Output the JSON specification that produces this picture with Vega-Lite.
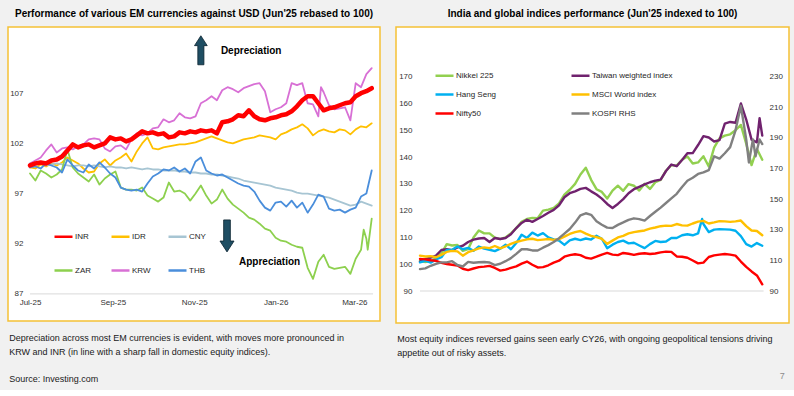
{
"$schema": "https://vega.github.io/schema/vega-lite/v6.json",
"background": "#f1f1f1",
"padding": {"left": 7, "top": 8, "right": 8, "bottom": 6},
"title": {"text": "7", "orient": "bottom", "anchor": "end", "offset": -12, "dx": -5, "fontSize": 9, "fontWeight": "normal", "color": "#8c8c8c"},
"spacing": 14,
"resolve": {"scale": {"color": "independent", "x": "independent", "y": "independent"}, "legend": {"color": "independent"}},
"datasets": {
"fx": [
{"d":"2025-07-01","s":"INR","v":99.8},{"d":"2025-07-05","s":"INR","v":100.0},{"d":"2025-07-09","s":"INR","v":100.1},{"d":"2025-07-13","s":"INR","v":100.0},{"d":"2025-07-17","s":"INR","v":100.3},{"d":"2025-07-21","s":"INR","v":100.4},{"d":"2025-07-25","s":"INR","v":100.7},{"d":"2025-07-29","s":"INR","v":101.3},{"d":"2025-08-02","s":"INR","v":101.9},{"d":"2025-08-06","s":"INR","v":101.6},{"d":"2025-08-10","s":"INR","v":101.8},{"d":"2025-08-14","s":"INR","v":101.9},{"d":"2025-08-18","s":"INR","v":101.6},{"d":"2025-08-22","s":"INR","v":101.8},{"d":"2025-08-26","s":"INR","v":102.0},{"d":"2025-08-30","s":"INR","v":102.6},{"d":"2025-09-03","s":"INR","v":102.4},{"d":"2025-09-07","s":"INR","v":102.5},{"d":"2025-09-11","s":"INR","v":102.2},{"d":"2025-09-15","s":"INR","v":102.4},{"d":"2025-09-19","s":"INR","v":102.8},{"d":"2025-09-23","s":"INR","v":103.2},{"d":"2025-09-27","s":"INR","v":103.0},{"d":"2025-10-01","s":"INR","v":103.1},{"d":"2025-10-05","s":"INR","v":102.9},{"d":"2025-10-09","s":"INR","v":103.0},{"d":"2025-10-13","s":"INR","v":102.6},{"d":"2025-10-17","s":"INR","v":102.7},{"d":"2025-10-21","s":"INR","v":103.1},{"d":"2025-10-25","s":"INR","v":103.0},{"d":"2025-10-29","s":"INR","v":103.2},{"d":"2025-11-02","s":"INR","v":103.1},{"d":"2025-11-06","s":"INR","v":103.3},{"d":"2025-11-10","s":"INR","v":103.2},{"d":"2025-11-14","s":"INR","v":103.3},{"d":"2025-11-18","s":"INR","v":103.0},{"d":"2025-11-22","s":"INR","v":104.1},{"d":"2025-11-26","s":"INR","v":104.2},{"d":"2025-11-30","s":"INR","v":104.4},{"d":"2025-12-04","s":"INR","v":104.8},{"d":"2025-12-08","s":"INR","v":104.7},{"d":"2025-12-12","s":"INR","v":105.3},{"d":"2025-12-16","s":"INR","v":104.7},{"d":"2025-12-20","s":"INR","v":104.4},{"d":"2025-12-24","s":"INR","v":104.3},{"d":"2025-12-28","s":"INR","v":104.5},{"d":"2026-01-01","s":"INR","v":104.6},{"d":"2026-01-05","s":"INR","v":104.8},{"d":"2026-01-09","s":"INR","v":104.9},{"d":"2026-01-13","s":"INR","v":105.2},{"d":"2026-01-17","s":"INR","v":105.7},{"d":"2026-01-21","s":"INR","v":106.3},{"d":"2026-01-25","s":"INR","v":106.7},{"d":"2026-01-29","s":"INR","v":106.7},{"d":"2026-02-02","s":"INR","v":106.0},{"d":"2026-02-06","s":"INR","v":105.3},{"d":"2026-02-10","s":"INR","v":105.5},{"d":"2026-02-14","s":"INR","v":105.6},{"d":"2026-02-18","s":"INR","v":105.8},{"d":"2026-02-22","s":"INR","v":106.0},{"d":"2026-02-26","s":"INR","v":106.1},{"d":"2026-03-02","s":"INR","v":106.7},{"d":"2026-03-06","s":"INR","v":107.0},{"d":"2026-03-10","s":"INR","v":107.2},{"d":"2026-03-14","s":"INR","v":107.5},
{"d":"2025-07-01","s":"IDR","v":99.6},{"d":"2025-07-05","s":"IDR","v":99.5},{"d":"2025-07-09","s":"IDR","v":99.9},{"d":"2025-07-13","s":"IDR","v":99.7},{"d":"2025-07-17","s":"IDR","v":100.0},{"d":"2025-07-21","s":"IDR","v":99.8},{"d":"2025-07-25","s":"IDR","v":100.1},{"d":"2025-07-29","s":"IDR","v":100.6},{"d":"2025-08-02","s":"IDR","v":100.3},{"d":"2025-08-06","s":"IDR","v":100.0},{"d":"2025-08-10","s":"IDR","v":99.5},{"d":"2025-08-14","s":"IDR","v":99.1},{"d":"2025-08-18","s":"IDR","v":99.2},{"d":"2025-08-22","s":"IDR","v":100.0},{"d":"2025-08-26","s":"IDR","v":100.4},{"d":"2025-08-30","s":"IDR","v":99.8},{"d":"2025-09-03","s":"IDR","v":100.3},{"d":"2025-09-07","s":"IDR","v":100.6},{"d":"2025-09-11","s":"IDR","v":101.0},{"d":"2025-09-15","s":"IDR","v":100.2},{"d":"2025-09-19","s":"IDR","v":101.2},{"d":"2025-09-23","s":"IDR","v":102.0},{"d":"2025-09-27","s":"IDR","v":102.6},{"d":"2025-10-01","s":"IDR","v":101.5},{"d":"2025-10-05","s":"IDR","v":101.4},{"d":"2025-10-09","s":"IDR","v":101.6},{"d":"2025-10-13","s":"IDR","v":101.7},{"d":"2025-10-17","s":"IDR","v":101.8},{"d":"2025-10-21","s":"IDR","v":101.9},{"d":"2025-10-25","s":"IDR","v":101.9},{"d":"2025-10-29","s":"IDR","v":102.0},{"d":"2025-11-02","s":"IDR","v":102.1},{"d":"2025-11-06","s":"IDR","v":102.3},{"d":"2025-11-10","s":"IDR","v":102.5},{"d":"2025-11-14","s":"IDR","v":102.7},{"d":"2025-11-18","s":"IDR","v":102.5},{"d":"2025-11-22","s":"IDR","v":102.3},{"d":"2025-11-26","s":"IDR","v":102.1},{"d":"2025-11-30","s":"IDR","v":102.0},{"d":"2025-12-04","s":"IDR","v":102.2},{"d":"2025-12-08","s":"IDR","v":102.4},{"d":"2025-12-12","s":"IDR","v":102.5},{"d":"2025-12-16","s":"IDR","v":102.6},{"d":"2025-12-20","s":"IDR","v":102.8},{"d":"2025-12-24","s":"IDR","v":102.7},{"d":"2025-12-28","s":"IDR","v":102.6},{"d":"2026-01-01","s":"IDR","v":102.4},{"d":"2026-01-05","s":"IDR","v":102.9},{"d":"2026-01-09","s":"IDR","v":103.1},{"d":"2026-01-13","s":"IDR","v":103.4},{"d":"2026-01-17","s":"IDR","v":103.6},{"d":"2026-01-21","s":"IDR","v":103.9},{"d":"2026-01-25","s":"IDR","v":103.5},{"d":"2026-01-29","s":"IDR","v":102.8},{"d":"2026-02-02","s":"IDR","v":103.2},{"d":"2026-02-06","s":"IDR","v":103.4},{"d":"2026-02-10","s":"IDR","v":103.2},{"d":"2026-02-14","s":"IDR","v":103.1},{"d":"2026-02-18","s":"IDR","v":103.4},{"d":"2026-02-22","s":"IDR","v":103.3},{"d":"2026-02-26","s":"IDR","v":102.9},{"d":"2026-03-02","s":"IDR","v":103.4},{"d":"2026-03-06","s":"IDR","v":103.7},{"d":"2026-03-10","s":"IDR","v":103.6},{"d":"2026-03-14","s":"IDR","v":104.0},
{"d":"2025-07-01","s":"CNY","v":100.0},{"d":"2025-07-05","s":"CNY","v":99.9},{"d":"2025-07-09","s":"CNY","v":100.0},{"d":"2025-07-13","s":"CNY","v":99.8},{"d":"2025-07-17","s":"CNY","v":99.9},{"d":"2025-07-21","s":"CNY","v":100.0},{"d":"2025-07-25","s":"CNY","v":99.9},{"d":"2025-07-29","s":"CNY","v":99.8},{"d":"2025-08-02","s":"CNY","v":99.7},{"d":"2025-08-06","s":"CNY","v":99.8},{"d":"2025-08-10","s":"CNY","v":99.8},{"d":"2025-08-14","s":"CNY","v":99.7},{"d":"2025-08-18","s":"CNY","v":99.8},{"d":"2025-08-22","s":"CNY","v":99.7},{"d":"2025-08-26","s":"CNY","v":99.6},{"d":"2025-08-30","s":"CNY","v":99.7},{"d":"2025-09-03","s":"CNY","v":99.6},{"d":"2025-09-07","s":"CNY","v":99.6},{"d":"2025-09-11","s":"CNY","v":99.5},{"d":"2025-09-15","s":"CNY","v":99.6},{"d":"2025-09-19","s":"CNY","v":99.5},{"d":"2025-09-23","s":"CNY","v":99.4},{"d":"2025-09-27","s":"CNY","v":99.5},{"d":"2025-10-01","s":"CNY","v":99.4},{"d":"2025-10-05","s":"CNY","v":99.4},{"d":"2025-10-09","s":"CNY","v":99.3},{"d":"2025-10-13","s":"CNY","v":99.3},{"d":"2025-10-17","s":"CNY","v":99.3},{"d":"2025-10-21","s":"CNY","v":99.2},{"d":"2025-10-25","s":"CNY","v":99.2},{"d":"2025-10-29","s":"CNY","v":99.1},{"d":"2025-11-02","s":"CNY","v":99.1},{"d":"2025-11-06","s":"CNY","v":99.0},{"d":"2025-11-10","s":"CNY","v":99.0},{"d":"2025-11-14","s":"CNY","v":98.9},{"d":"2025-11-18","s":"CNY","v":98.9},{"d":"2025-11-22","s":"CNY","v":98.8},{"d":"2025-11-26","s":"CNY","v":98.7},{"d":"2025-11-30","s":"CNY","v":98.6},{"d":"2025-12-04","s":"CNY","v":98.5},{"d":"2025-12-08","s":"CNY","v":98.3},{"d":"2025-12-12","s":"CNY","v":98.2},{"d":"2025-12-16","s":"CNY","v":98.1},{"d":"2025-12-20","s":"CNY","v":98.0},{"d":"2025-12-24","s":"CNY","v":97.9},{"d":"2025-12-28","s":"CNY","v":97.8},{"d":"2026-01-01","s":"CNY","v":97.6},{"d":"2026-01-05","s":"CNY","v":97.5},{"d":"2026-01-09","s":"CNY","v":97.4},{"d":"2026-01-13","s":"CNY","v":97.3},{"d":"2026-01-17","s":"CNY","v":97.1},{"d":"2026-01-21","s":"CNY","v":97.0},{"d":"2026-01-25","s":"CNY","v":97.0},{"d":"2026-01-29","s":"CNY","v":96.9},{"d":"2026-02-02","s":"CNY","v":96.8},{"d":"2026-02-06","s":"CNY","v":96.7},{"d":"2026-02-10","s":"CNY","v":96.6},{"d":"2026-02-14","s":"CNY","v":96.4},{"d":"2026-02-18","s":"CNY","v":96.2},{"d":"2026-02-22","s":"CNY","v":96.0},{"d":"2026-02-26","s":"CNY","v":95.8},{"d":"2026-03-02","s":"CNY","v":95.9},{"d":"2026-03-06","s":"CNY","v":96.2},{"d":"2026-03-10","s":"CNY","v":96.0},{"d":"2026-03-14","s":"CNY","v":95.8},
{"d":"2025-07-01","s":"ZAR","v":99.0},{"d":"2025-07-05","s":"ZAR","v":98.3},{"d":"2025-07-09","s":"ZAR","v":99.3},{"d":"2025-07-13","s":"ZAR","v":99.0},{"d":"2025-07-17","s":"ZAR","v":98.6},{"d":"2025-07-21","s":"ZAR","v":98.9},{"d":"2025-07-25","s":"ZAR","v":99.4},{"d":"2025-07-29","s":"ZAR","v":101.4},{"d":"2025-08-02","s":"ZAR","v":99.6},{"d":"2025-08-06","s":"ZAR","v":99.0},{"d":"2025-08-10","s":"ZAR","v":98.6},{"d":"2025-08-14","s":"ZAR","v":98.2},{"d":"2025-08-18","s":"ZAR","v":98.9},{"d":"2025-08-22","s":"ZAR","v":97.9},{"d":"2025-08-26","s":"ZAR","v":98.5},{"d":"2025-08-30","s":"ZAR","v":98.9},{"d":"2025-09-03","s":"ZAR","v":99.2},{"d":"2025-09-07","s":"ZAR","v":97.6},{"d":"2025-09-11","s":"ZAR","v":97.4},{"d":"2025-09-15","s":"ZAR","v":97.4},{"d":"2025-09-19","s":"ZAR","v":97.3},{"d":"2025-09-23","s":"ZAR","v":97.6},{"d":"2025-09-27","s":"ZAR","v":96.8},{"d":"2025-10-01","s":"ZAR","v":96.5},{"d":"2025-10-05","s":"ZAR","v":96.2},{"d":"2025-10-09","s":"ZAR","v":96.6},{"d":"2025-10-13","s":"ZAR","v":98.1},{"d":"2025-10-17","s":"ZAR","v":97.2},{"d":"2025-10-21","s":"ZAR","v":97.3},{"d":"2025-10-25","s":"ZAR","v":97.0},{"d":"2025-10-29","s":"ZAR","v":96.3},{"d":"2025-11-02","s":"ZAR","v":97.0},{"d":"2025-11-06","s":"ZAR","v":97.8},{"d":"2025-11-10","s":"ZAR","v":96.8},{"d":"2025-11-14","s":"ZAR","v":96.0},{"d":"2025-11-18","s":"ZAR","v":96.4},{"d":"2025-11-22","s":"ZAR","v":97.4},{"d":"2025-11-26","s":"ZAR","v":96.5},{"d":"2025-11-30","s":"ZAR","v":95.9},{"d":"2025-12-04","s":"ZAR","v":95.5},{"d":"2025-12-08","s":"ZAR","v":95.1},{"d":"2025-12-12","s":"ZAR","v":94.6},{"d":"2025-12-16","s":"ZAR","v":94.4},{"d":"2025-12-20","s":"ZAR","v":94.0},{"d":"2025-12-24","s":"ZAR","v":93.5},{"d":"2025-12-28","s":"ZAR","v":93.3},{"d":"2026-01-01","s":"ZAR","v":92.6},{"d":"2026-01-05","s":"ZAR","v":92.3},{"d":"2026-01-09","s":"ZAR","v":92.2},{"d":"2026-01-13","s":"ZAR","v":91.9},{"d":"2026-01-17","s":"ZAR","v":91.7},{"d":"2026-01-21","s":"ZAR","v":91.6},{"d":"2026-01-25","s":"ZAR","v":89.6},{"d":"2026-01-29","s":"ZAR","v":88.5},{"d":"2026-02-02","s":"ZAR","v":90.2},{"d":"2026-02-06","s":"ZAR","v":90.9},{"d":"2026-02-10","s":"ZAR","v":89.7},{"d":"2026-02-14","s":"ZAR","v":89.5},{"d":"2026-02-18","s":"ZAR","v":89.6},{"d":"2026-02-22","s":"ZAR","v":89.7},{"d":"2026-02-26","s":"ZAR","v":89.0},{"d":"2026-03-02","s":"ZAR","v":90.5},{"d":"2026-03-06","s":"ZAR","v":91.4},{"d":"2026-03-08","s":"ZAR","v":93.4},{"d":"2026-03-10","s":"ZAR","v":92.5},{"d":"2026-03-11","s":"ZAR","v":91.4},{"d":"2026-03-14","s":"ZAR","v":94.5},
{"d":"2025-07-01","s":"KRW","v":100.0},{"d":"2025-07-05","s":"KRW","v":100.3},{"d":"2025-07-09","s":"KRW","v":100.6},{"d":"2025-07-13","s":"KRW","v":101.3},{"d":"2025-07-17","s":"KRW","v":101.9},{"d":"2025-07-21","s":"KRW","v":101.1},{"d":"2025-07-25","s":"KRW","v":101.5},{"d":"2025-07-29","s":"KRW","v":101.6},{"d":"2025-08-02","s":"KRW","v":101.4},{"d":"2025-08-06","s":"KRW","v":101.7},{"d":"2025-08-10","s":"KRW","v":101.9},{"d":"2025-08-14","s":"KRW","v":102.4},{"d":"2025-08-18","s":"KRW","v":102.5},{"d":"2025-08-22","s":"KRW","v":102.4},{"d":"2025-08-26","s":"KRW","v":101.5},{"d":"2025-08-30","s":"KRW","v":101.2},{"d":"2025-09-03","s":"KRW","v":101.7},{"d":"2025-09-07","s":"KRW","v":101.8},{"d":"2025-09-11","s":"KRW","v":101.4},{"d":"2025-09-15","s":"KRW","v":102.4},{"d":"2025-09-19","s":"KRW","v":103.0},{"d":"2025-09-23","s":"KRW","v":102.8},{"d":"2025-09-27","s":"KRW","v":103.0},{"d":"2025-10-01","s":"KRW","v":103.5},{"d":"2025-10-05","s":"KRW","v":103.6},{"d":"2025-10-09","s":"KRW","v":104.4},{"d":"2025-10-13","s":"KRW","v":104.1},{"d":"2025-10-17","s":"KRW","v":104.3},{"d":"2025-10-21","s":"KRW","v":105.0},{"d":"2025-10-25","s":"KRW","v":104.6},{"d":"2025-10-29","s":"KRW","v":104.5},{"d":"2025-11-02","s":"KRW","v":104.7},{"d":"2025-11-06","s":"KRW","v":106.0},{"d":"2025-11-10","s":"KRW","v":106.3},{"d":"2025-11-14","s":"KRW","v":106.7},{"d":"2025-11-18","s":"KRW","v":106.3},{"d":"2025-11-22","s":"KRW","v":107.3},{"d":"2025-11-26","s":"KRW","v":107.6},{"d":"2025-11-30","s":"KRW","v":107.4},{"d":"2025-12-04","s":"KRW","v":107.1},{"d":"2025-12-08","s":"KRW","v":107.5},{"d":"2025-12-12","s":"KRW","v":107.7},{"d":"2025-12-16","s":"KRW","v":107.9},{"d":"2025-12-20","s":"KRW","v":108.0},{"d":"2025-12-24","s":"KRW","v":107.2},{"d":"2025-12-28","s":"KRW","v":105.1},{"d":"2026-01-01","s":"KRW","v":105.4},{"d":"2026-01-05","s":"KRW","v":105.6},{"d":"2026-01-09","s":"KRW","v":106.0},{"d":"2026-01-13","s":"KRW","v":108.0},{"d":"2026-01-17","s":"KRW","v":107.8},{"d":"2026-01-21","s":"KRW","v":108.0},{"d":"2026-01-25","s":"KRW","v":106.0},{"d":"2026-01-29","s":"KRW","v":105.9},{"d":"2026-02-02","s":"KRW","v":104.7},{"d":"2026-02-04","s":"KRW","v":107.6},{"d":"2026-02-06","s":"KRW","v":107.1},{"d":"2026-02-10","s":"KRW","v":105.8},{"d":"2026-02-14","s":"KRW","v":105.4},{"d":"2026-02-18","s":"KRW","v":105.5},{"d":"2026-02-22","s":"KRW","v":105.6},{"d":"2026-02-26","s":"KRW","v":104.3},{"d":"2026-03-02","s":"KRW","v":108.0},{"d":"2026-03-06","s":"KRW","v":107.6},{"d":"2026-03-10","s":"KRW","v":108.9},{"d":"2026-03-14","s":"KRW","v":109.5},
{"d":"2025-07-01","s":"THB","v":99.6},{"d":"2025-07-05","s":"THB","v":99.7},{"d":"2025-07-09","s":"THB","v":99.5},{"d":"2025-07-13","s":"THB","v":100.0},{"d":"2025-07-17","s":"THB","v":99.8},{"d":"2025-07-21","s":"THB","v":99.6},{"d":"2025-07-25","s":"THB","v":99.1},{"d":"2025-07-29","s":"THB","v":100.4},{"d":"2025-08-02","s":"THB","v":99.8},{"d":"2025-08-06","s":"THB","v":99.3},{"d":"2025-08-10","s":"THB","v":99.1},{"d":"2025-08-14","s":"THB","v":99.9},{"d":"2025-08-18","s":"THB","v":99.5},{"d":"2025-08-22","s":"THB","v":100.1},{"d":"2025-08-26","s":"THB","v":99.6},{"d":"2025-08-30","s":"THB","v":99.0},{"d":"2025-09-03","s":"THB","v":98.6},{"d":"2025-09-07","s":"THB","v":97.6},{"d":"2025-09-11","s":"THB","v":97.4},{"d":"2025-09-15","s":"THB","v":97.3},{"d":"2025-09-19","s":"THB","v":97.4},{"d":"2025-09-23","s":"THB","v":97.2},{"d":"2025-09-27","s":"THB","v":98.0},{"d":"2025-10-01","s":"THB","v":98.7},{"d":"2025-10-05","s":"THB","v":99.0},{"d":"2025-10-09","s":"THB","v":99.4},{"d":"2025-10-13","s":"THB","v":99.3},{"d":"2025-10-17","s":"THB","v":99.6},{"d":"2025-10-21","s":"THB","v":99.2},{"d":"2025-10-25","s":"THB","v":99.5},{"d":"2025-10-29","s":"THB","v":99.0},{"d":"2025-11-02","s":"THB","v":100.2},{"d":"2025-11-06","s":"THB","v":100.6},{"d":"2025-11-10","s":"THB","v":99.3},{"d":"2025-11-14","s":"THB","v":99.0},{"d":"2025-11-18","s":"THB","v":98.8},{"d":"2025-11-22","s":"THB","v":98.9},{"d":"2025-11-26","s":"THB","v":98.6},{"d":"2025-11-30","s":"THB","v":98.3},{"d":"2025-12-04","s":"THB","v":98.0},{"d":"2025-12-08","s":"THB","v":97.8},{"d":"2025-12-12","s":"THB","v":97.7},{"d":"2025-12-16","s":"THB","v":97.2},{"d":"2025-12-20","s":"THB","v":96.3},{"d":"2025-12-24","s":"THB","v":95.6},{"d":"2025-12-28","s":"THB","v":95.3},{"d":"2026-01-01","s":"THB","v":96.1},{"d":"2026-01-05","s":"THB","v":96.2},{"d":"2026-01-09","s":"THB","v":95.7},{"d":"2026-01-13","s":"THB","v":96.3},{"d":"2026-01-17","s":"THB","v":95.6},{"d":"2026-01-21","s":"THB","v":96.1},{"d":"2026-01-25","s":"THB","v":95.1},{"d":"2026-01-29","s":"THB","v":95.9},{"d":"2026-02-02","s":"THB","v":96.9},{"d":"2026-02-06","s":"THB","v":96.7},{"d":"2026-02-10","s":"THB","v":95.5},{"d":"2026-02-14","s":"THB","v":95.3},{"d":"2026-02-18","s":"THB","v":95.4},{"d":"2026-02-22","s":"THB","v":95.1},{"d":"2026-02-26","s":"THB","v":95.4},{"d":"2026-03-02","s":"THB","v":95.6},{"d":"2026-03-06","s":"THB","v":96.7},{"d":"2026-03-10","s":"THB","v":97.0},{"d":"2026-03-14","s":"THB","v":99.3}
],
"eq": [
{"d":"2025-07-01","s":"Nikkei 225","v":101.3},{"d":"2025-07-05","s":"Nikkei 225","v":100.8},{"d":"2025-07-09","s":"Nikkei 225","v":101.2},{"d":"2025-07-13","s":"Nikkei 225","v":102.3},{"d":"2025-07-17","s":"Nikkei 225","v":104.0},{"d":"2025-07-21","s":"Nikkei 225","v":107.5},{"d":"2025-07-25","s":"Nikkei 225","v":107.0},{"d":"2025-07-29","s":"Nikkei 225","v":107.2},{"d":"2025-08-02","s":"Nikkei 225","v":105.0},{"d":"2025-08-06","s":"Nikkei 225","v":105.6},{"d":"2025-08-10","s":"Nikkei 225","v":110.0},{"d":"2025-08-14","s":"Nikkei 225","v":112.6},{"d":"2025-08-18","s":"Nikkei 225","v":111.5},{"d":"2025-08-22","s":"Nikkei 225","v":111.5},{"d":"2025-08-26","s":"Nikkei 225","v":109.9},{"d":"2025-08-30","s":"Nikkei 225","v":109.4},{"d":"2025-09-03","s":"Nikkei 225","v":110.0},{"d":"2025-09-07","s":"Nikkei 225","v":111.5},{"d":"2025-09-11","s":"Nikkei 225","v":113.5},{"d":"2025-09-15","s":"Nikkei 225","v":115.8},{"d":"2025-09-19","s":"Nikkei 225","v":116.9},{"d":"2025-09-23","s":"Nikkei 225","v":117.3},{"d":"2025-09-27","s":"Nikkei 225","v":117.2},{"d":"2025-10-01","s":"Nikkei 225","v":120.0},{"d":"2025-10-05","s":"Nikkei 225","v":120.4},{"d":"2025-10-09","s":"Nikkei 225","v":121.0},{"d":"2025-10-13","s":"Nikkei 225","v":122.7},{"d":"2025-10-17","s":"Nikkei 225","v":126.0},{"d":"2025-10-21","s":"Nikkei 225","v":127.8},{"d":"2025-10-25","s":"Nikkei 225","v":130.0},{"d":"2025-10-29","s":"Nikkei 225","v":133.5},{"d":"2025-11-02","s":"Nikkei 225","v":136.0},{"d":"2025-11-06","s":"Nikkei 225","v":131.5},{"d":"2025-11-10","s":"Nikkei 225","v":128.0},{"d":"2025-11-14","s":"Nikkei 225","v":127.0},{"d":"2025-11-18","s":"Nikkei 225","v":124.5},{"d":"2025-11-22","s":"Nikkei 225","v":127.5},{"d":"2025-11-26","s":"Nikkei 225","v":129.3},{"d":"2025-11-30","s":"Nikkei 225","v":127.4},{"d":"2025-12-04","s":"Nikkei 225","v":129.9},{"d":"2025-12-08","s":"Nikkei 225","v":129.3},{"d":"2025-12-12","s":"Nikkei 225","v":127.5},{"d":"2025-12-16","s":"Nikkei 225","v":130.0},{"d":"2025-12-20","s":"Nikkei 225","v":128.1},{"d":"2025-12-24","s":"Nikkei 225","v":130.6},{"d":"2025-12-28","s":"Nikkei 225","v":131.5},{"d":"2026-01-01","s":"Nikkei 225","v":134.9},{"d":"2026-01-05","s":"Nikkei 225","v":137.0},{"d":"2026-01-09","s":"Nikkei 225","v":136.8},{"d":"2026-01-13","s":"Nikkei 225","v":139.0},{"d":"2026-01-17","s":"Nikkei 225","v":140.2},{"d":"2026-01-21","s":"Nikkei 225","v":137.6},{"d":"2026-01-25","s":"Nikkei 225","v":138.0},{"d":"2026-01-29","s":"Nikkei 225","v":140.3},{"d":"2026-02-02","s":"Nikkei 225","v":136.5},{"d":"2026-02-06","s":"Nikkei 225","v":143.5},{"d":"2026-02-10","s":"Nikkei 225","v":147.0},{"d":"2026-02-14","s":"Nikkei 225","v":148.0},{"d":"2026-02-18","s":"Nikkei 225","v":148.5},{"d":"2026-02-22","s":"Nikkei 225","v":150.0},{"d":"2026-02-26","s":"Nikkei 225","v":152.0},{"d":"2026-03-02","s":"Nikkei 225","v":145.0},{"d":"2026-03-06","s":"Nikkei 225","v":137.0},{"d":"2026-03-10","s":"Nikkei 225","v":143.0},{"d":"2026-03-14","s":"Nikkei 225","v":139.0},
{"d":"2025-07-01","s":"Taiwan weighted index","v":101.0},{"d":"2025-07-05","s":"Taiwan weighted index","v":101.9},{"d":"2025-07-09","s":"Taiwan weighted index","v":102.5},{"d":"2025-07-13","s":"Taiwan weighted index","v":103.2},{"d":"2025-07-17","s":"Taiwan weighted index","v":105.3},{"d":"2025-07-21","s":"Taiwan weighted index","v":105.6},{"d":"2025-07-25","s":"Taiwan weighted index","v":105.2},{"d":"2025-07-29","s":"Taiwan weighted index","v":106.3},{"d":"2025-08-02","s":"Taiwan weighted index","v":106.9},{"d":"2025-08-06","s":"Taiwan weighted index","v":108.3},{"d":"2025-08-10","s":"Taiwan weighted index","v":109.2},{"d":"2025-08-14","s":"Taiwan weighted index","v":109.6},{"d":"2025-08-18","s":"Taiwan weighted index","v":109.8},{"d":"2025-08-22","s":"Taiwan weighted index","v":108.3},{"d":"2025-08-26","s":"Taiwan weighted index","v":109.8},{"d":"2025-08-30","s":"Taiwan weighted index","v":109.4},{"d":"2025-09-03","s":"Taiwan weighted index","v":109.8},{"d":"2025-09-07","s":"Taiwan weighted index","v":111.2},{"d":"2025-09-11","s":"Taiwan weighted index","v":113.5},{"d":"2025-09-15","s":"Taiwan weighted index","v":115.4},{"d":"2025-09-19","s":"Taiwan weighted index","v":116.6},{"d":"2025-09-23","s":"Taiwan weighted index","v":115.8},{"d":"2025-09-27","s":"Taiwan weighted index","v":116.9},{"d":"2025-10-01","s":"Taiwan weighted index","v":118.0},{"d":"2025-10-05","s":"Taiwan weighted index","v":119.2},{"d":"2025-10-09","s":"Taiwan weighted index","v":120.3},{"d":"2025-10-13","s":"Taiwan weighted index","v":122.0},{"d":"2025-10-17","s":"Taiwan weighted index","v":125.0},{"d":"2025-10-21","s":"Taiwan weighted index","v":126.5},{"d":"2025-10-25","s":"Taiwan weighted index","v":127.2},{"d":"2025-10-29","s":"Taiwan weighted index","v":128.1},{"d":"2025-11-02","s":"Taiwan weighted index","v":128.5},{"d":"2025-11-06","s":"Taiwan weighted index","v":127.2},{"d":"2025-11-10","s":"Taiwan weighted index","v":126.0},{"d":"2025-11-14","s":"Taiwan weighted index","v":124.5},{"d":"2025-11-18","s":"Taiwan weighted index","v":122.5},{"d":"2025-11-22","s":"Taiwan weighted index","v":121.0},{"d":"2025-11-26","s":"Taiwan weighted index","v":122.5},{"d":"2025-11-30","s":"Taiwan weighted index","v":124.3},{"d":"2025-12-04","s":"Taiwan weighted index","v":126.5},{"d":"2025-12-08","s":"Taiwan weighted index","v":128.0},{"d":"2025-12-12","s":"Taiwan weighted index","v":128.9},{"d":"2025-12-16","s":"Taiwan weighted index","v":129.8},{"d":"2025-12-20","s":"Taiwan weighted index","v":130.6},{"d":"2025-12-24","s":"Taiwan weighted index","v":131.2},{"d":"2025-12-28","s":"Taiwan weighted index","v":131.6},{"d":"2026-01-01","s":"Taiwan weighted index","v":134.8},{"d":"2026-01-05","s":"Taiwan weighted index","v":137.2},{"d":"2026-01-09","s":"Taiwan weighted index","v":136.6},{"d":"2026-01-13","s":"Taiwan weighted index","v":138.9},{"d":"2026-01-17","s":"Taiwan weighted index","v":141.4},{"d":"2026-01-21","s":"Taiwan weighted index","v":141.5},{"d":"2026-01-25","s":"Taiwan weighted index","v":144.5},{"d":"2026-01-29","s":"Taiwan weighted index","v":147.8},{"d":"2026-02-02","s":"Taiwan weighted index","v":147.3},{"d":"2026-02-06","s":"Taiwan weighted index","v":145.8},{"d":"2026-02-10","s":"Taiwan weighted index","v":146.3},{"d":"2026-02-14","s":"Taiwan weighted index","v":152.5},{"d":"2026-02-18","s":"Taiwan weighted index","v":153.1},{"d":"2026-02-22","s":"Taiwan weighted index","v":152.8},{"d":"2026-02-26","s":"Taiwan weighted index","v":160.0},{"d":"2026-03-02","s":"Taiwan weighted index","v":154.0},{"d":"2026-03-06","s":"Taiwan weighted index","v":146.5},{"d":"2026-03-10","s":"Taiwan weighted index","v":145.5},{"d":"2026-03-12","s":"Taiwan weighted index","v":154.5},{"d":"2026-03-14","s":"Taiwan weighted index","v":148.0},
{"d":"2025-07-01","s":"Hang Seng","v":100.7},{"d":"2025-07-05","s":"Hang Seng","v":101.3},{"d":"2025-07-09","s":"Hang Seng","v":100.6},{"d":"2025-07-13","s":"Hang Seng","v":101.8},{"d":"2025-07-17","s":"Hang Seng","v":102.6},{"d":"2025-07-21","s":"Hang Seng","v":105.3},{"d":"2025-07-25","s":"Hang Seng","v":105.4},{"d":"2025-07-29","s":"Hang Seng","v":106.6},{"d":"2025-08-02","s":"Hang Seng","v":105.6},{"d":"2025-08-06","s":"Hang Seng","v":106.1},{"d":"2025-08-10","s":"Hang Seng","v":105.0},{"d":"2025-08-14","s":"Hang Seng","v":106.6},{"d":"2025-08-18","s":"Hang Seng","v":105.8},{"d":"2025-08-22","s":"Hang Seng","v":105.4},{"d":"2025-08-26","s":"Hang Seng","v":104.9},{"d":"2025-08-30","s":"Hang Seng","v":105.8},{"d":"2025-09-03","s":"Hang Seng","v":107.3},{"d":"2025-09-07","s":"Hang Seng","v":105.6},{"d":"2025-09-11","s":"Hang Seng","v":107.9},{"d":"2025-09-15","s":"Hang Seng","v":111.0},{"d":"2025-09-19","s":"Hang Seng","v":109.8},{"d":"2025-09-23","s":"Hang Seng","v":111.8},{"d":"2025-09-27","s":"Hang Seng","v":110.7},{"d":"2025-10-01","s":"Hang Seng","v":111.6},{"d":"2025-10-05","s":"Hang Seng","v":110.0},{"d":"2025-10-09","s":"Hang Seng","v":109.3},{"d":"2025-10-13","s":"Hang Seng","v":108.8},{"d":"2025-10-17","s":"Hang Seng","v":107.2},{"d":"2025-10-21","s":"Hang Seng","v":108.9},{"d":"2025-10-25","s":"Hang Seng","v":109.5},{"d":"2025-10-29","s":"Hang Seng","v":109.0},{"d":"2025-11-02","s":"Hang Seng","v":109.6},{"d":"2025-11-06","s":"Hang Seng","v":109.2},{"d":"2025-11-10","s":"Hang Seng","v":110.6},{"d":"2025-11-14","s":"Hang Seng","v":109.5},{"d":"2025-11-18","s":"Hang Seng","v":106.0},{"d":"2025-11-22","s":"Hang Seng","v":107.3},{"d":"2025-11-26","s":"Hang Seng","v":108.3},{"d":"2025-11-30","s":"Hang Seng","v":108.8},{"d":"2025-12-04","s":"Hang Seng","v":107.8},{"d":"2025-12-08","s":"Hang Seng","v":108.0},{"d":"2025-12-12","s":"Hang Seng","v":107.0},{"d":"2025-12-16","s":"Hang Seng","v":106.0},{"d":"2025-12-20","s":"Hang Seng","v":107.5},{"d":"2025-12-24","s":"Hang Seng","v":108.7},{"d":"2025-12-28","s":"Hang Seng","v":108.3},{"d":"2026-01-01","s":"Hang Seng","v":108.5},{"d":"2026-01-05","s":"Hang Seng","v":109.8},{"d":"2026-01-09","s":"Hang Seng","v":109.8},{"d":"2026-01-13","s":"Hang Seng","v":110.8},{"d":"2026-01-17","s":"Hang Seng","v":111.2},{"d":"2026-01-21","s":"Hang Seng","v":110.8},{"d":"2026-01-25","s":"Hang Seng","v":111.5},{"d":"2026-01-28","s":"Hang Seng","v":116.9},{"d":"2026-01-29","s":"Hang Seng","v":115.0},{"d":"2026-02-02","s":"Hang Seng","v":112.0},{"d":"2026-02-06","s":"Hang Seng","v":112.9},{"d":"2026-02-10","s":"Hang Seng","v":113.1},{"d":"2026-02-14","s":"Hang Seng","v":113.0},{"d":"2026-02-18","s":"Hang Seng","v":112.9},{"d":"2026-02-22","s":"Hang Seng","v":112.5},{"d":"2026-02-26","s":"Hang Seng","v":110.5},{"d":"2026-03-02","s":"Hang Seng","v":107.5},{"d":"2026-03-06","s":"Hang Seng","v":106.6},{"d":"2026-03-10","s":"Hang Seng","v":107.9},{"d":"2026-03-14","s":"Hang Seng","v":106.9},
{"d":"2025-07-01","s":"MSCI World index","v":103.2},{"d":"2025-07-05","s":"MSCI World index","v":102.9},{"d":"2025-07-09","s":"MSCI World index","v":103.0},{"d":"2025-07-13","s":"MSCI World index","v":102.6},{"d":"2025-07-17","s":"MSCI World index","v":103.5},{"d":"2025-07-21","s":"MSCI World index","v":104.6},{"d":"2025-07-25","s":"MSCI World index","v":105.0},{"d":"2025-07-29","s":"MSCI World index","v":104.8},{"d":"2025-08-02","s":"MSCI World index","v":103.2},{"d":"2025-08-06","s":"MSCI World index","v":104.5},{"d":"2025-08-10","s":"MSCI World index","v":105.2},{"d":"2025-08-14","s":"MSCI World index","v":105.9},{"d":"2025-08-18","s":"MSCI World index","v":106.3},{"d":"2025-08-22","s":"MSCI World index","v":106.0},{"d":"2025-08-26","s":"MSCI World index","v":106.8},{"d":"2025-08-30","s":"MSCI World index","v":105.9},{"d":"2025-09-03","s":"MSCI World index","v":106.7},{"d":"2025-09-07","s":"MSCI World index","v":107.6},{"d":"2025-09-11","s":"MSCI World index","v":108.3},{"d":"2025-09-15","s":"MSCI World index","v":108.8},{"d":"2025-09-19","s":"MSCI World index","v":109.3},{"d":"2025-09-23","s":"MSCI World index","v":109.5},{"d":"2025-09-27","s":"MSCI World index","v":109.0},{"d":"2025-10-01","s":"MSCI World index","v":109.2},{"d":"2025-10-05","s":"MSCI World index","v":109.4},{"d":"2025-10-09","s":"MSCI World index","v":109.1},{"d":"2025-10-13","s":"MSCI World index","v":109.4},{"d":"2025-10-17","s":"MSCI World index","v":110.3},{"d":"2025-10-21","s":"MSCI World index","v":111.3},{"d":"2025-10-25","s":"MSCI World index","v":112.0},{"d":"2025-10-29","s":"MSCI World index","v":112.4},{"d":"2025-11-02","s":"MSCI World index","v":111.4},{"d":"2025-11-06","s":"MSCI World index","v":110.6},{"d":"2025-11-10","s":"MSCI World index","v":110.1},{"d":"2025-11-14","s":"MSCI World index","v":109.5},{"d":"2025-11-18","s":"MSCI World index","v":107.6},{"d":"2025-11-22","s":"MSCI World index","v":108.8},{"d":"2025-11-26","s":"MSCI World index","v":110.0},{"d":"2025-11-30","s":"MSCI World index","v":110.6},{"d":"2025-12-04","s":"MSCI World index","v":111.5},{"d":"2025-12-08","s":"MSCI World index","v":112.0},{"d":"2025-12-12","s":"MSCI World index","v":112.3},{"d":"2025-12-16","s":"MSCI World index","v":112.6},{"d":"2025-12-20","s":"MSCI World index","v":113.3},{"d":"2025-12-24","s":"MSCI World index","v":113.7},{"d":"2025-12-28","s":"MSCI World index","v":114.2},{"d":"2026-01-01","s":"MSCI World index","v":114.4},{"d":"2026-01-05","s":"MSCI World index","v":114.3},{"d":"2026-01-09","s":"MSCI World index","v":115.0},{"d":"2026-01-13","s":"MSCI World index","v":114.5},{"d":"2026-01-17","s":"MSCI World index","v":114.4},{"d":"2026-01-21","s":"MSCI World index","v":115.2},{"d":"2026-01-25","s":"MSCI World index","v":115.9},{"d":"2026-01-29","s":"MSCI World index","v":116.2},{"d":"2026-02-02","s":"MSCI World index","v":115.2},{"d":"2026-02-06","s":"MSCI World index","v":115.6},{"d":"2026-02-10","s":"MSCI World index","v":116.1},{"d":"2026-02-14","s":"MSCI World index","v":116.0},{"d":"2026-02-18","s":"MSCI World index","v":115.8},{"d":"2026-02-22","s":"MSCI World index","v":116.0},{"d":"2026-02-26","s":"MSCI World index","v":116.3},{"d":"2026-03-02","s":"MSCI World index","v":114.2},{"d":"2026-03-06","s":"MSCI World index","v":112.6},{"d":"2026-03-10","s":"MSCI World index","v":112.4},{"d":"2026-03-14","s":"MSCI World index","v":110.8},
{"d":"2025-07-01","s":"Nifty50","v":102.0},{"d":"2025-07-05","s":"Nifty50","v":101.8},{"d":"2025-07-09","s":"Nifty50","v":101.5},{"d":"2025-07-13","s":"Nifty50","v":101.3},{"d":"2025-07-17","s":"Nifty50","v":100.5},{"d":"2025-07-21","s":"Nifty50","v":100.1},{"d":"2025-07-25","s":"Nifty50","v":99.8},{"d":"2025-07-29","s":"Nifty50","v":99.5},{"d":"2025-08-02","s":"Nifty50","v":98.3},{"d":"2025-08-06","s":"Nifty50","v":97.8},{"d":"2025-08-10","s":"Nifty50","v":98.4},{"d":"2025-08-14","s":"Nifty50","v":98.9},{"d":"2025-08-18","s":"Nifty50","v":99.1},{"d":"2025-08-22","s":"Nifty50","v":99.4},{"d":"2025-08-26","s":"Nifty50","v":98.6},{"d":"2025-08-30","s":"Nifty50","v":97.6},{"d":"2025-09-03","s":"Nifty50","v":98.0},{"d":"2025-09-07","s":"Nifty50","v":98.6},{"d":"2025-09-11","s":"Nifty50","v":99.2},{"d":"2025-09-15","s":"Nifty50","v":100.2},{"d":"2025-09-19","s":"Nifty50","v":101.0},{"d":"2025-09-23","s":"Nifty50","v":99.8},{"d":"2025-09-27","s":"Nifty50","v":98.8},{"d":"2025-10-01","s":"Nifty50","v":98.9},{"d":"2025-10-05","s":"Nifty50","v":99.6},{"d":"2025-10-09","s":"Nifty50","v":100.6},{"d":"2025-10-13","s":"Nifty50","v":101.3},{"d":"2025-10-17","s":"Nifty50","v":102.8},{"d":"2025-10-21","s":"Nifty50","v":103.4},{"d":"2025-10-25","s":"Nifty50","v":103.7},{"d":"2025-10-29","s":"Nifty50","v":103.4},{"d":"2025-11-02","s":"Nifty50","v":102.4},{"d":"2025-11-06","s":"Nifty50","v":102.1},{"d":"2025-11-10","s":"Nifty50","v":102.8},{"d":"2025-11-14","s":"Nifty50","v":103.6},{"d":"2025-11-18","s":"Nifty50","v":104.2},{"d":"2025-11-22","s":"Nifty50","v":103.6},{"d":"2025-11-26","s":"Nifty50","v":103.4},{"d":"2025-11-30","s":"Nifty50","v":104.2},{"d":"2025-12-04","s":"Nifty50","v":103.9},{"d":"2025-12-08","s":"Nifty50","v":103.5},{"d":"2025-12-12","s":"Nifty50","v":103.9},{"d":"2025-12-16","s":"Nifty50","v":104.1},{"d":"2025-12-20","s":"Nifty50","v":103.8},{"d":"2025-12-24","s":"Nifty50","v":104.0},{"d":"2025-12-28","s":"Nifty50","v":104.4},{"d":"2026-01-01","s":"Nifty50","v":104.7},{"d":"2026-01-05","s":"Nifty50","v":104.6},{"d":"2026-01-09","s":"Nifty50","v":102.9},{"d":"2026-01-13","s":"Nifty50","v":102.8},{"d":"2026-01-17","s":"Nifty50","v":102.4},{"d":"2026-01-21","s":"Nifty50","v":101.4},{"d":"2026-01-25","s":"Nifty50","v":100.3},{"d":"2026-01-29","s":"Nifty50","v":100.6},{"d":"2026-02-02","s":"Nifty50","v":102.7},{"d":"2026-02-06","s":"Nifty50","v":103.3},{"d":"2026-02-10","s":"Nifty50","v":103.6},{"d":"2026-02-14","s":"Nifty50","v":103.8},{"d":"2026-02-18","s":"Nifty50","v":103.6},{"d":"2026-02-22","s":"Nifty50","v":103.2},{"d":"2026-02-26","s":"Nifty50","v":101.0},{"d":"2026-03-02","s":"Nifty50","v":99.0},{"d":"2026-03-06","s":"Nifty50","v":97.3},{"d":"2026-03-10","s":"Nifty50","v":95.8},{"d":"2026-03-14","s":"Nifty50","v":92.5},
{"d":"2025-07-01","s":"KOSPI RHS","v":104.3},{"d":"2025-07-05","s":"KOSPI RHS","v":104.8},{"d":"2025-07-09","s":"KOSPI RHS","v":106.5},{"d":"2025-07-13","s":"KOSPI RHS","v":107.8},{"d":"2025-07-17","s":"KOSPI RHS","v":108.7},{"d":"2025-07-21","s":"KOSPI RHS","v":108.7},{"d":"2025-07-25","s":"KOSPI RHS","v":109.5},{"d":"2025-07-29","s":"KOSPI RHS","v":107.0},{"d":"2025-08-02","s":"KOSPI RHS","v":106.0},{"d":"2025-08-06","s":"KOSPI RHS","v":109.0},{"d":"2025-08-10","s":"KOSPI RHS","v":108.5},{"d":"2025-08-14","s":"KOSPI RHS","v":108.8},{"d":"2025-08-18","s":"KOSPI RHS","v":109.0},{"d":"2025-08-22","s":"KOSPI RHS","v":108.6},{"d":"2025-08-26","s":"KOSPI RHS","v":106.9},{"d":"2025-08-30","s":"KOSPI RHS","v":107.8},{"d":"2025-09-03","s":"KOSPI RHS","v":109.5},{"d":"2025-09-07","s":"KOSPI RHS","v":111.5},{"d":"2025-09-11","s":"KOSPI RHS","v":114.3},{"d":"2025-09-15","s":"KOSPI RHS","v":117.3},{"d":"2025-09-19","s":"KOSPI RHS","v":117.3},{"d":"2025-09-23","s":"KOSPI RHS","v":116.5},{"d":"2025-09-27","s":"KOSPI RHS","v":116.5},{"d":"2025-10-01","s":"KOSPI RHS","v":118.3},{"d":"2025-10-05","s":"KOSPI RHS","v":120.0},{"d":"2025-10-09","s":"KOSPI RHS","v":122.0},{"d":"2025-10-13","s":"KOSPI RHS","v":124.5},{"d":"2025-10-17","s":"KOSPI RHS","v":127.5},{"d":"2025-10-21","s":"KOSPI RHS","v":130.5},{"d":"2025-10-25","s":"KOSPI RHS","v":134.7},{"d":"2025-10-29","s":"KOSPI RHS","v":139.5},{"d":"2025-11-02","s":"KOSPI RHS","v":140.8},{"d":"2025-11-06","s":"KOSPI RHS","v":139.8},{"d":"2025-11-10","s":"KOSPI RHS","v":135.6},{"d":"2025-11-14","s":"KOSPI RHS","v":133.3},{"d":"2025-11-18","s":"KOSPI RHS","v":131.4},{"d":"2025-11-22","s":"KOSPI RHS","v":131.2},{"d":"2025-11-26","s":"KOSPI RHS","v":133.2},{"d":"2025-11-30","s":"KOSPI RHS","v":134.8},{"d":"2025-12-04","s":"KOSPI RHS","v":136.5},{"d":"2025-12-08","s":"KOSPI RHS","v":137.5},{"d":"2025-12-12","s":"KOSPI RHS","v":137.0},{"d":"2025-12-16","s":"KOSPI RHS","v":136.0},{"d":"2025-12-20","s":"KOSPI RHS","v":139.0},{"d":"2025-12-24","s":"KOSPI RHS","v":141.8},{"d":"2025-12-28","s":"KOSPI RHS","v":144.5},{"d":"2026-01-01","s":"KOSPI RHS","v":147.5},{"d":"2026-01-05","s":"KOSPI RHS","v":150.5},{"d":"2026-01-09","s":"KOSPI RHS","v":153.5},{"d":"2026-01-13","s":"KOSPI RHS","v":158.0},{"d":"2026-01-17","s":"KOSPI RHS","v":162.0},{"d":"2026-01-21","s":"KOSPI RHS","v":164.0},{"d":"2026-01-25","s":"KOSPI RHS","v":166.5},{"d":"2026-01-29","s":"KOSPI RHS","v":167.5},{"d":"2026-02-02","s":"KOSPI RHS","v":169.0},{"d":"2026-02-06","s":"KOSPI RHS","v":178.0},{"d":"2026-02-10","s":"KOSPI RHS","v":176.5},{"d":"2026-02-14","s":"KOSPI RHS","v":180.0},{"d":"2026-02-18","s":"KOSPI RHS","v":184.0},{"d":"2026-02-22","s":"KOSPI RHS","v":195.0},{"d":"2026-02-26","s":"KOSPI RHS","v":211.0},{"d":"2026-03-02","s":"KOSPI RHS","v":189.0},{"d":"2026-03-04","s":"KOSPI RHS","v":174.0},{"d":"2026-03-06","s":"KOSPI RHS","v":184.0},{"d":"2026-03-07","s":"KOSPI RHS","v":189.0},{"d":"2026-03-09","s":"KOSPI RHS","v":178.0},{"d":"2026-03-10","s":"KOSPI RHS","v":182.0},{"d":"2026-03-12","s":"KOSPI RHS","v":189.0},{"d":"2026-03-14","s":"KOSPI RHS","v":186.0}
]
},
"hconcat": [
{
"title": {"text": ["Depreciation across most EM currencies is evident, with moves more pronounced in", "KRW and INR (in line with a sharp fall in domestic equity indices)."], "orient": "bottom", "anchor": "start", "fontSize": 9, "fontWeight": "normal", "lineHeight": 14, "offset": 12, "dx": 2, "color": "#1a1a1a", "subtitle": "Source: Investing.com", "subtitleFontSize": 9, "subtitleColor": "#1a1a1a", "subtitlePadding": 18},
"resolve": {"scale": {"color": "independent"}, "legend": {"color": "independent"}},
"vconcat": [
{
"width": 372, "height": 294,
"title": {"text": "Performance of various EM currencies against USD (Jun'25 rebased to 100)", "anchor": "middle", "fontSize": 10, "fontWeight": "bold", "offset": 8, "color": "#000000"},
"resolve": {"scale": {"x": "independent", "y": "independent"}},
"layer": [
{"data": {"values": [{}]},
 "mark": {"type": "rule", "color": "#d9d9d9", "strokeWidth": 1},
 "encoding": {
  "x": {"datum": {"year": 2025, "month": 7, "date": 1, "utc": true}, "type": "temporal", "axis": null, "scale": {"type": "utc", "domain": [{"year": 2025, "month": 6, "date": 14, "hours": 12, "utc": true}, {"year": 2026, "month": 3, "date": 20, "hours": 5, "utc": true}]}},
  "x2": {"datum": {"year": 2026, "month": 3, "date": 15, "utc": true}},
  "y": {"datum": 87, "type": "quantitative", "axis": null, "scale": {"domain": [84.3, 113.6], "nice": false, "zero": false}}
 }},
{"data": {"values": [{}]},
 "mark": {"type": "point", "shape": "M0,-1L0.44,-0.32L0.21,-0.32L0.21,1L-0.21,1L-0.21,-0.32L-0.44,-0.32Z", "filled": true, "size": 841, "fill": "#1f4e63", "stroke": "#0b2330", "strokeWidth": 0.8, "opacity": 1},
 "encoding": {
  "x": {"datum": {"year": 2025, "month": 11, "date": 6, "utc": true}, "type": "temporal", "axis": null, "scale": {"type": "utc", "domain": [{"year": 2025, "month": 6, "date": 14, "hours": 12, "utc": true}, {"year": 2026, "month": 3, "date": 20, "hours": 5, "utc": true}]}},
  "y": {"datum": 111.28, "type": "quantitative", "axis": null, "scale": {"domain": [84.3, 113.6], "nice": false, "zero": false}}
 }},
{"data": {"values": [{}]},
 "mark": {"type": "point", "shape": "M0,1L0.44,0.32L0.21,0.32L0.21,-1L-0.21,-1L-0.21,0.32L-0.44,0.32Z", "filled": true, "size": 1024, "fill": "#1f4e63", "stroke": "#0b2330", "strokeWidth": 0.8, "opacity": 1},
 "encoding": {
  "x": {"datum": {"year": 2025, "month": 11, "date": 25, "hours": 14, "utc": true}, "type": "temporal", "axis": null, "scale": {"type": "utc", "domain": [{"year": 2025, "month": 6, "date": 14, "hours": 12, "utc": true}, {"year": 2026, "month": 3, "date": 20, "hours": 5, "utc": true}]}},
  "y": {"datum": 92.78, "type": "quantitative", "axis": null, "scale": {"domain": [84.3, 113.6], "nice": false, "zero": false}}
 }},
{"data": {"values": [{}]},
 "mark": {"type": "text", "text": "Depreciation", "fontSize": 10, "fontWeight": "bold", "align": "left", "baseline": "middle", "fill": "#000000"},
 "encoding": {
  "x": {"datum": {"year": 2025, "month": 11, "date": 21, "utc": true}, "type": "temporal", "axis": null, "scale": {"type": "utc", "domain": [{"year": 2025, "month": 6, "date": 14, "hours": 12, "utc": true}, {"year": 2026, "month": 3, "date": 20, "hours": 5, "utc": true}]}},
  "y": {"datum": 111.16, "type": "quantitative", "axis": null, "scale": {"domain": [84.3, 113.6], "nice": false, "zero": false}}
 }},
{"data": {"values": [{}]},
 "mark": {"type": "text", "text": "Appreciation", "fontSize": 10, "fontWeight": "bold", "align": "left", "baseline": "middle", "fill": "#000000"},
 "encoding": {
  "x": {"datum": {"year": 2025, "month": 12, "date": 4, "hours": 14, "utc": true}, "type": "temporal", "axis": null, "scale": {"type": "utc", "domain": [{"year": 2025, "month": 6, "date": 14, "hours": 12, "utc": true}, {"year": 2026, "month": 3, "date": 20, "hours": 5, "utc": true}]}},
  "y": {"datum": 90.22, "type": "quantitative", "axis": null, "scale": {"domain": [84.3, 113.6], "nice": false, "zero": false}}
 }},
{"data": {"name": "fx"},
 "transform": [{"filter": "datum.s !== 'INR'"}],
 "mark": {"type": "line", "strokeWidth": 1.8, "strokeJoin": "round", "strokeCap": "round"},
 "encoding": {
  "x": {"field": "d", "type": "temporal", "title": null, "scale": {"type": "utc", "domain": [{"year": 2025, "month": 6, "date": 14, "hours": 12, "utc": true}, {"year": 2026, "month": 3, "date": 20, "hours": 5, "utc": true}]},
   "axis": {"values": [{"year": 2025, "month": 7, "date": 1, "utc": true}, {"year": 2025, "month": 9, "date": 1, "utc": true}, {"year": 2025, "month": 11, "date": 1, "utc": true}, {"year": 2026, "month": 1, "date": 1, "utc": true}, {"year": 2026, "month": 3, "date": 1, "utc": true}], "format": "%b-%y", "offset": -27, "labelPadding": 4, "labelFlush": false, "labelOverlap": false}},
  "y": {"field": "v", "type": "quantitative", "title": null, "scale": {"domain": [84.3, 113.6], "nice": false, "zero": false}, "axis": {"values": [87, 92, 97, 102, 107], "offset": -17, "labelPadding": 2}},
  "color": {"field": "s", "type": "nominal", "title": null, "scale": {"domain": ["INR", "IDR", "CNY", "ZAR", "KRW", "THB"], "range": ["#ff0000", "#ffc000", "#a7c5d3", "#8dd04e", "#d870d5", "#4a8edb"]},
   "legend": {"orient": "bottom-left", "offset": 45, "direction": "horizontal", "columns": 3, "symbolType": "stroke", "symbolSize": 324, "symbolStrokeWidth": 2.5, "labelOffset": 1, "labelFontSize": 8, "columnPadding": 12, "rowPadding": 18, "gridAlign": "all", "padding": 0}}
 }},
{"data": {"name": "fx"},
 "transform": [{"filter": "datum.s === 'INR'"}],
 "mark": {"type": "line", "strokeWidth": 4.5, "strokeJoin": "round", "strokeCap": "round"},
 "encoding": {
  "x": {"field": "d", "type": "temporal", "title": null, "axis": null, "scale": {"type": "utc", "domain": [{"year": 2025, "month": 6, "date": 14, "hours": 12, "utc": true}, {"year": 2026, "month": 3, "date": 20, "hours": 5, "utc": true}]}},
  "y": {"field": "v", "type": "quantitative", "title": null, "scale": {"domain": [84.3, 113.6], "nice": false, "zero": false}, "axis": null},
  "color": {"field": "s", "type": "nominal", "title": null, "scale": {"domain": ["INR", "IDR", "CNY", "ZAR", "KRW", "THB"], "range": ["#ff0000", "#ffc000", "#a7c5d3", "#8dd04e", "#d870d5", "#4a8edb"]}}
 }}
]
}
]
},
{
"title": {"text": ["Most equity indices reversed gains seen early CY26, with ongoing geopolitical tensions driving", "appetite out of risky assets."], "orient": "bottom", "anchor": "start", "fontSize": 9, "fontWeight": "normal", "lineHeight": 14, "offset": 11, "dx": 2, "color": "#1a1a1a"},
"resolve": {"scale": {"color": "independent"}, "legend": {"color": "independent"}},
"vconcat": [
{
"width": 393, "height": 296,
"title": {"text": "India and global indices performance (Jun'25 indexed to 100)", "anchor": "middle", "fontSize": 10, "fontWeight": "bold", "offset": 8, "color": "#000000"},
"resolve": {"scale": {"y": "independent"}},
"layer": [
{"data": {"values": [{}]},
 "mark": {"type": "rule", "color": "#d9d9d9", "strokeWidth": 1},
 "encoding": {
  "x": {"datum": {"year": 2025, "month": 7, "date": 1, "utc": true}, "type": "temporal", "axis": null, "scale": {"type": "utc", "domain": [{"year": 2025, "month": 6, "date": 13, "hours": 1, "utc": true}, {"year": 2026, "month": 4, "date": 3, "utc": true}]}},
  "x2": {"datum": {"year": 2026, "month": 3, "date": 15, "utc": true}},
  "y": {"datum": 90, "type": "quantitative", "axis": null, "scale": {"domain": [78.06, 188.55], "nice": false, "zero": false}}
 }},
{"data": {"name": "eq"},
 "transform": [{"filter": "datum.s !== 'KOSPI RHS'"}],
 "mark": {"type": "line", "strokeWidth": 2.4, "strokeJoin": "round", "strokeCap": "round"},
 "encoding": {
  "x": {"field": "d", "type": "temporal", "title": null, "scale": {"type": "utc", "domain": [{"year": 2025, "month": 6, "date": 13, "hours": 1, "utc": true}, {"year": 2026, "month": 4, "date": 3, "utc": true}]},
   "axis": {"values": [{"year": 2025, "month": 7, "date": 1, "utc": true}, {"year": 2025, "month": 9, "date": 1, "utc": true}, {"year": 2025, "month": 11, "date": 1, "utc": true}, {"year": 2026, "month": 1, "date": 1, "utc": true}, {"year": 2026, "month": 3, "date": 1, "utc": true}], "format": "%b-%y", "offset": -32, "labelPadding": 5, "labelFlush": false, "labelOverlap": false}},
  "y": {"field": "v", "type": "quantitative", "title": null, "scale": {"domain": [78.06, 188.55], "nice": false, "zero": false}, "axis": {"values": [90, 100, 110, 120, 130, 140, 150, 160, 170], "offset": -18, "labelPadding": 2}},
  "color": {"field": "s", "type": "nominal", "title": null, "scale": {"domain": ["Nikkei 225", "Taiwan weighted index", "Hang Seng", "MSCI World index", "Nifty50", "KOSPI RHS"], "range": ["#92d050", "#70226e", "#00b0f0", "#ffc000", "#ff0000", "#808080"]},
   "legend": {"orient": "top-left", "offset": 38, "direction": "horizontal", "columns": 2, "symbolType": "stroke", "symbolSize": 324, "symbolStrokeWidth": 2.5, "labelOffset": 1, "labelFontSize": 8, "columnPadding": 69, "rowPadding": 3, "gridAlign": "each", "padding": 0}}
 }},
{"data": {"name": "eq"},
 "transform": [{"filter": "datum.s === 'KOSPI RHS'"}],
 "mark": {"type": "line", "strokeWidth": 2.4, "strokeJoin": "round", "strokeCap": "round"},
 "encoding": {
  "x": {"field": "d", "type": "temporal", "title": null, "scale": {"type": "utc", "domain": [{"year": 2025, "month": 6, "date": 13, "hours": 1, "utc": true}, {"year": 2026, "month": 4, "date": 3, "utc": true}]}},
  "y": {"field": "v", "type": "quantitative", "title": null, "scale": {"domain": [69.1, 262.5], "nice": false, "zero": false}, "axis": {"orient": "right", "values": [90, 110, 130, 150, 170, 190, 210, 230], "offset": -22, "labelPadding": 2}},
  "color": {"field": "s", "type": "nominal", "title": null, "scale": {"domain": ["Nikkei 225", "Taiwan weighted index", "Hang Seng", "MSCI World index", "Nifty50", "KOSPI RHS"], "range": ["#92d050", "#70226e", "#00b0f0", "#ffc000", "#ff0000", "#808080"]}}
 }}
]
}
]
}
],
"config": {
 "font": "Liberation Sans",
 "view": {"stroke": "#f5c136", "strokeWidth": 1.5, "fill": "#ffffff"},
 "axis": {"domain": false, "ticks": false, "tickSize": 0, "grid": false, "labelFontSize": 8, "labelColor": "#333333", "labelFont": "Liberation Sans"},
 "legend": {"labelFontSize": 8, "labelColor": "#262626", "labelFont": "Liberation Sans"},
 "title": {"font": "Liberation Sans", "subtitleFont": "Liberation Sans"}
}
}
